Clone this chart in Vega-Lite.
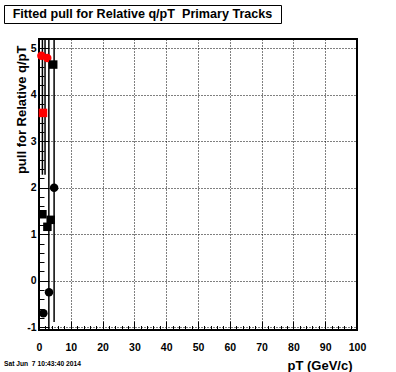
{
  "$schema": "https://vega.github.io/schema/vega-lite/v6.json",
  "background": "white",
  "padding": {"left": 3, "top": 4, "right": 0, "bottom": 0},
  "spacing": 14,
  "config": {"font": "Liberation Sans"},
  "datasets": {
    "points": [
      {"x": 0.75, "y": 4.84, "series": "rc"},
      {"x": 2.6, "y": 4.79, "series": "rc"},
      {"x": 1.26, "y": 3.61, "series": "rs"},
      {"x": 4.47, "y": 4.65, "series": "bs"},
      {"x": 4.75, "y": 2.0, "series": "bc"},
      {"x": 1.07, "y": 1.43, "series": "bs"},
      {"x": 2.64, "y": 1.16, "series": "bs"},
      {"x": 3.68, "y": 1.31, "series": "bs"},
      {"x": 3.14, "y": -0.25, "series": "bc"},
      {"x": 1.38, "y": -0.7, "series": "bc"}
    ],
    "bars": [
      {"x": 1.07, "lo": 2.28, "hi": 6},
      {"x": 1.9, "lo": 2.28, "hi": 6},
      {"x": 3.1, "lo": -2, "hi": 6},
      {"x": 4.75, "lo": -0.89, "hi": 6}
    ]
  },
  "vconcat": [
    {
      "width": 277,
      "height": 18,
      "view": {"stroke": "black", "strokeWidth": 1},
      "data": {"values": [{"t": "Fitted pull for Relative q/pT\u00a0 Primary Tracks"}]},
      "mark": {"type": "text", "font": "Liberation Sans", "fontWeight": "bold", "fontSize": 12.6, "color": "black"},
      "encoding": {"text": {"field": "t"}}
    },
    {
      "bounds": "flush",
      "spacing": 0,
      "resolve": {"scale": {"x": "independent", "y": "independent"}},
      "hconcat": [
        {
          "width": 35,
          "height": 291,
          "view": {"stroke": null},
          "title": {"text": "Sat Jun\u00a0 7 10:43:40 2014", "orient": "bottom", "anchor": "start", "frame": "group", "offset": 28.5, "fontSize": 6.7, "fontWeight": "bold", "font": "Liberation Sans", "color": "black"},
          "data": {"name": "points"},
          "mark": {"type": "point", "opacity": 0},
          "encoding": {
            "y": {"field": "y", "type": "quantitative",
              "scale": {"domain": [-1.06, 5.2], "nice": false, "zero": false},
              "axis": {
                "title": "pull for Relative q/pT",
                "orient": "left", "offset": -35,
                "values": [-1, 0, 1, 2, 3, 4, 5],
                "tickCount": 500,
                "labelExpr": "'' + round(datum.value)",
                "labelFont": "Liberation Sans", "labelFontWeight": "bold", "labelFontSize": 10.5, "labelColor": "black",
                "labelPadding": 3, "labelFlush": false, "labelOverlap": false,
                "ticks": false, "grid": false, "domain": false,
                "titleFont": "Liberation Sans", "titleFontSize": 13, "titleFontWeight": "bold", "titleColor": "black",
                "titleAnchor": "end", "titleAlign": "right", "titleX": -14, "titleY": 6, "titleBaseline": "alphabetic", "titleAngle": -90
              }
            }
          }
        },
        {
          "width": 318,
          "height": 291,
          "view": {"stroke": "black", "strokeWidth": 2},
          "layer": [
            {
              "data": {"name": "bars"},
              "mark": {"type": "rule", "color": "black", "strokeWidth": 1.5, "clip": true},
              "encoding": {
                "x": {"field": "x", "type": "quantitative",
                  "scale": {"domain": [0, 100], "nice": false, "zero": false},
                  "axis": {
                    "title": "pT (GeV/c)",
                    "values": [0,2,4,6,8,10,12,14,16,18,20,22,24,26,28,30,32,34,36,38,40,42,44,46,48,50,52,54,56,58,60,62,64,66,68,70,72,74,76,78,80,82,84,86,88,90,92,94,96,98,100],
                    "tickCount": 500,
                    "labelExpr": "datum.value % 10 === 0 ? '' + datum.value : ''",
                    "labelFont": "Liberation Sans", "labelFontWeight": "bold", "labelFontSize": 10.5, "labelColor": "black",
                    "labelPadding": 21, "labelFlush": false, "labelOverlap": false,
                    "tickSize": {"condition": {"test": "datum.value % 10 === 0", "value": -9}, "value": -4.5},
                    "tickColor": "black", "tickWidth": 1,
                    "grid": true, "gridColor": "black", "gridDash": [1, 2], "gridWidth": 1,
                    "gridOpacity": {"condition": {"test": "datum.value % 10 === 0", "value": 1}, "value": 0},
                    "domain": false,
                    "titleFont": "Liberation Sans", "titleFontSize": 13, "titleFontWeight": "bold", "titleColor": "black",
                    "titleAnchor": "end", "titleAlign": "right", "titleX": 313, "titleY": 39, "titleBaseline": "alphabetic"
                  }
                },
                "y": {"field": "lo", "type": "quantitative",
                  "scale": {"domain": [-1.06, 5.2], "nice": false, "zero": false},
                  "axis": {
                    "title": null,
                    "values": [-1,-0.8,-0.6,-0.4,-0.2,0,0.2,0.4,0.6,0.8,1,1.2,1.4,1.6,1.8,2,2.2,2.4,2.6,2.8,3,3.2,3.4,3.6,3.8,4,4.2,4.4,4.6,4.8,5],
                    "tickCount": 500,
                    "labels": false,
                    "tickSize": {"condition": {"test": "abs(datum.value - round(datum.value)) < 0.01", "value": -9.5}, "value": -5},
                    "tickColor": "black", "tickWidth": 1,
                    "grid": true, "gridColor": "black", "gridDash": [1, 2], "gridWidth": 1,
                    "gridOpacity": {"condition": {"test": "abs(datum.value - round(datum.value)) < 0.01", "value": 1}, "value": 0},
                    "domain": false
                  }
                },
                "y2": {"field": "hi"}
              }
            },
            {
              "data": {"name": "points"},
              "mark": {"type": "point", "filled": true, "opacity": 1, "size": 72},
              "encoding": {
                "x": {"field": "x", "type": "quantitative", "title": "pT (GeV/c)"},
                "y": {"field": "y", "type": "quantitative", "title": null},
                "color": {"field": "series", "type": "nominal", "legend": null,
                  "scale": {"domain": ["rc", "rs", "bc", "bs"], "range": ["#ff0000", "#ff0000", "#000000", "#000000"]}},
                "shape": {"field": "series", "type": "nominal", "legend": null,
                  "scale": {"domain": ["rc", "rs", "bc", "bs"], "range": ["circle", "square", "circle", "square"]}}
              }
            }
          ]
        }
      ]
    }
  ]
}
